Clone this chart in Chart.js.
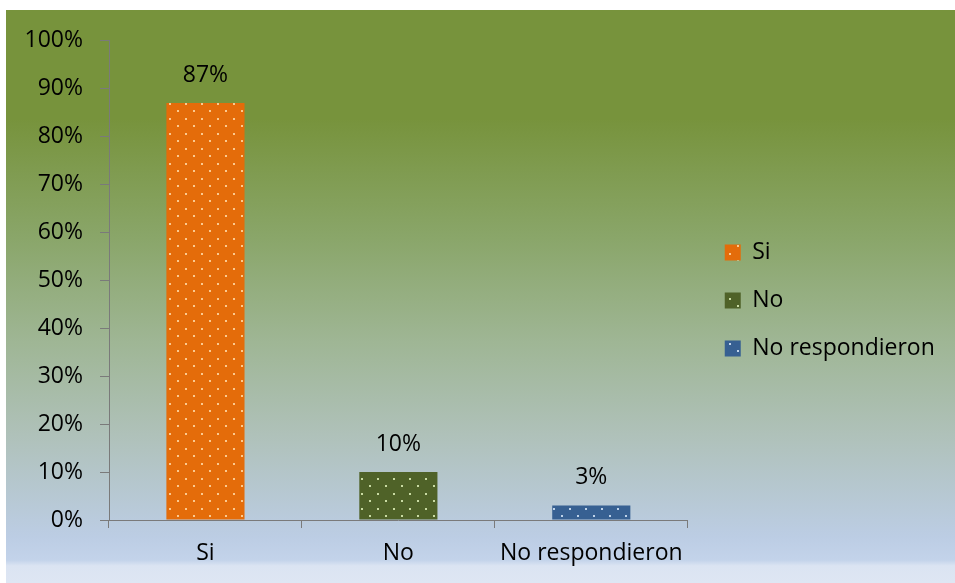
<!DOCTYPE html>
<html>
<head>
<meta charset="utf-8">
<script src="https://cdn.jsdelivr.net/npm/chart.js@4.4.1/dist/chart.umd.min.js"></script>
<style>
    html, body { margin: 0; padding: 0; background: #ffffff; }
    #box {
        position: absolute; left: 6px; top: 10px; width: 949px; height: 573px;
        background: linear-gradient(to bottom,
            #77933c 0%, #77933c 19%, #8aa66a 40%, #9fb695 58%,
            #afc1b9 74%, #bccde4 92%, #c3d3ea 96%, #dbe4f2 97%, #dee6f3 100%);
    }
</style>
</head>
<body>
<div id="box"><canvas id="chart"></canvas></div>
<script>
const categories = ["Si", "No", "No respondieron"];
const values = [87, 10, 3];
const yTicks = [0, 10, 20, 30, 40, 50, 60, 70, 80, 90, 100];

const FONT = { family: "'Open Sans', sans-serif", size: 23 };
const AXIS_GREY = "#7a7a7a";

// dotted fill like the Excel pattern
function makePattern(base, dot) {
    const c = document.createElement("canvas");
    c.width = 16; c.height = 15;
    const g = c.getContext("2d");
    g.fillStyle = base;
    g.fillRect(0, 0, 16, 15);
    g.fillStyle = dot;
    g.fillRect(3, 3, 2, 2);
    g.fillRect(11, 10, 2, 2);
    return g.createPattern(c, "repeat");
}

const fills = [
    makePattern("#e46c0a", "#fbc98f"),
    makePattern("#4f6228", "#c9dba3"),
    makePattern("#376092", "#bfd3ea")
];

// value labels above the bars
const barLabels = {
    id: "barLabels",
    afterDatasetsDraw(chart) {
        const ctx = chart.ctx;
        const meta = chart.getDatasetMeta(0);
        ctx.save();
        ctx.font = "23px 'Open Sans', sans-serif";
        ctx.fillStyle = "#000000";
        ctx.textAlign = "center";
        ctx.textBaseline = "middle";
        meta.data.forEach((bar, i) => {
            ctx.fillText(values[i] + "%", bar.x, bar.y - 28);
        });
        ctx.restore();
    }
};

// nudge the legend to where Excel put it
const legendNudge = {
    id: "legendNudge",
    afterLayout(chart) {
        const lg = chart.legend;
        if (!lg) return;
        lg.left += 12;
        lg.right = chart.width;
        lg.width = lg.right - lg.left;
        lg.top -= 11; lg.bottom -= 11;
    }
};

new Chart(document.getElementById("chart"), {
    type: "bar",
    data: {
        labels: categories,
        datasets: [{
            data: values,
            backgroundColor: fills,
            borderWidth: 0,
            categoryPercentage: 1,
            barPercentage: 0.405
        }]
    },
    options: {
        responsive: true,
        maintainAspectRatio: false,
        animation: false,
        layout: { padding: { top: 30, right: 40, left: 0, bottom: 0 } },
        plugins: {
            tooltip: { enabled: false },
            legend: {
                position: "right",
                labels: {
                    font: FONT,
                    color: "#000000",
                    boxWidth: 16,
                    boxHeight: 16,
                    padding: 25,
                    generateLabels: () => categories.map((c, i) => ({
                        text: c,
                        fillStyle: fills[i],
                        strokeStyle: "rgba(0,0,0,0)",
                        lineWidth: 0,
                        fontColor: "#000000",
                        index: i
                    }))
                }
            }
        },
        scales: {
            x: {
                afterFit: s => { s.height = 63; },
                grid: { drawOnChartArea: false, offset: true, tickLength: 8, color: AXIS_GREY, lineWidth: 1 },
                border: { color: AXIS_GREY, width: 1 },
                ticks: { font: FONT, color: "#000000", padding: 12 }
            },
            y: {
                min: 0,
                max: 100,
                afterFit: s => { s.width = 103; },
                afterBuildTicks: s => { s.ticks = yTicks.map(v => ({ value: v })); },
                grid: { drawOnChartArea: false, tickLength: 9, color: AXIS_GREY, lineWidth: 1 },
                border: { color: AXIS_GREY, width: 1 },
                ticks: { font: FONT, color: "#000000", padding: 17, callback: v => v + "%" }
            }
        }
    },
    plugins: [barLabels, legendNudge]
});
</script>
</body>
</html>
